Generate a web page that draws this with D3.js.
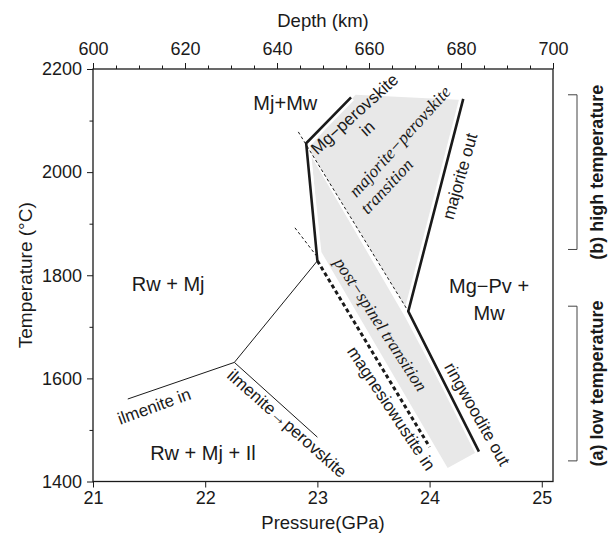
<!DOCTYPE html>
<html>
<head>
<meta charset="utf-8">
<script src="https://cdn.jsdelivr.net/npm/d3@7"></script>
<style>
  html, body { margin: 0; padding: 0; background: #fff; }
  svg { display: block; font-family: "Liberation Sans", Arial, Helvetica, sans-serif; }
</style>
</head>
<body>
<svg id="chart" width="608" height="540"></svg>
<script>
// ---- Axis ticks ----
const pressureTicks = [21, 22, 23, 24, 25];
const depthTicks = [600, 620, 640, 660, 680, 700];
const depthMinorTicks = [605, 610, 615, 625, 630, 635, 645, 650, 655, 665, 670, 675, 685, 690, 695];
const tempTicks = [1400, 1600, 1800, 2000, 2200];
const tempMinorTicks = [1500, 1700, 1900, 2100];

// ---- Phase boundaries, [pressure GPa, temperature °C] ----
const mgPerovskiteIn = [[23.3, 2145], [22.9, 2056], [23.0, 1828]];
const magnesiowustiteIn = [[23.0, 1828], [24.0, 1467]];
const tripleLink = [[23.0, 1828], [22.26, 1631]];
const ilmeniteIn = [[22.26, 1631], [21.31, 1560]];
const ilmeniteToPerovskite = [[22.26, 1631], [23.0, 1486]];
const majoriteRingwooditeOut = [[24.3, 2142], [23.81, 1730], [24.44, 1458]];
const majPvDashed = [[22.83, 2078], [23.81, 1730]];
const postSpinelDashed = [[22.8, 1892], [22.99, 1838]];

// ---- Transition fields ----
const majPvField = [[23.34, 2150], [24.295, 2140], [23.81, 1730], [22.93, 2043], [22.94, 2051]];
const postSpinelField = [[22.94, 2039], [23.036, 1845], [24.161, 1426], [24.42, 1457],
                         [23.777, 1721], [23.723, 1741], [22.946, 2031]];

// ---- Temperature ranges of the two experiment sets ----
const highTempRange = [1850, 2150];
const lowTempRange = [1440, 1740];

// ---- Chart geometry ----
const W = 608, H = 540;
const margin = { left: 93, right: 55, top: 69, bottom: 58.5 };
const svg = d3.select("#chart");

const x = d3.scaleLinear().domain([21, 25.1]).range([margin.left, W - margin.right]);
const xDepth = d3.scaleLinear().domain([600, 700]).range([margin.left, W - margin.right]);
const y = d3.scaleLinear().domain([1400, 2200]).range([H - margin.bottom, margin.top]);

const line = d3.line().x(d => x(d[0])).y(d => y(d[1]));
const ink = "#1a1a1a";

// grey fields
const fields = svg.append("g");
[majPvField, postSpinelField].forEach(f => {
  fields.append("path")
    .attr("d", line(f) + "Z")
    .attr("fill", "#e8e8e8")
    .attr("stroke", "none");
});

// white halos around the thick boundaries
[mgPerovskiteIn, majoriteRingwooditeOut].forEach(l => {
  svg.append("path").attr("d", line(l)).attr("fill", "none")
    .attr("stroke", "#fff").attr("stroke-width", 8).attr("stroke-linejoin", "round");
});

// thin dashed boundaries
[majPvDashed, postSpinelDashed].forEach(l => {
  svg.append("path").attr("d", line(l)).attr("fill", "none")
    .attr("stroke", ink).attr("stroke-width", 1).attr("stroke-dasharray", "3,2.5");
});

// thin solid boundaries
[tripleLink, ilmeniteIn, ilmeniteToPerovskite].forEach(l => {
  svg.append("path").attr("d", line(l)).attr("fill", "none")
    .attr("stroke", ink).attr("stroke-width", 1);
});

// magnesiowustite-in (thick dotted)
svg.append("path").attr("d", line(magnesiowustiteIn)).attr("fill", "none")
  .attr("stroke", ink).attr("stroke-width", 3).attr("stroke-dasharray", "4,3");

// thick solid boundaries
[mgPerovskiteIn, majoriteRingwooditeOut].forEach(l => {
  svg.append("path").attr("d", line(l)).attr("fill", "none")
    .attr("stroke", ink).attr("stroke-width", 2.6).attr("stroke-linejoin", "miter");
});

// ---- Axes ----
function styleAxis(g) {
  g.select(".domain").remove();
  g.selectAll(".tick line").attr("stroke", ink).attr("stroke-width", 1);
  g.selectAll(".tick text").attr("fill", ink).attr("font-size", 18)
    .attr("font-family", "Liberation Sans, Arial, sans-serif");
}

svg.append("g").attr("transform", `translate(0,${y(1400)})`)
  .call(d3.axisBottom(x).tickValues(pressureTicks).tickSize(6).tickPadding(4).tickFormat(d3.format("d")))
  .call(styleAxis);

svg.append("g").attr("transform", `translate(0,${y(2200)})`)
  .call(d3.axisTop(xDepth).tickValues(depthTicks).tickSize(6).tickPadding(8).tickFormat(d3.format("d")))
  .call(styleAxis);
svg.append("g").attr("transform", `translate(0,${y(2200)})`)
  .call(d3.axisTop(xDepth).tickValues(depthMinorTicks).tickSize(3.5).tickFormat(""))
  .call(styleAxis);

svg.append("g").attr("transform", `translate(${x(21)},0)`)
  .call(d3.axisLeft(y).tickValues(tempTicks).tickSize(6).tickPadding(5).tickFormat(d3.format("d")))
  .call(styleAxis);
svg.append("g").attr("transform", `translate(${x(21)},0)`)
  .call(d3.axisLeft(y).tickValues(tempMinorTicks).tickSize(3.5).tickFormat(""))
  .call(styleAxis);

// frame
svg.append("rect")
  .attr("x", x.range()[0]).attr("y", y.range()[1])
  .attr("width", x.range()[1] - x.range()[0])
  .attr("height", y.range()[0] - y.range()[1])
  .attr("fill", "none").attr("stroke", ink).attr("stroke-width", 1.3);

// axis titles
svg.append("text").attr("x", (x.range()[0] + x.range()[1]) / 2).attr("y", 27)
  .attr("text-anchor", "middle").attr("font-size", 18.5).attr("fill", ink).text("Depth (km)");
svg.append("text").attr("x", (x.range()[0] + x.range()[1]) / 2).attr("y", 529)
  .attr("text-anchor", "middle").attr("font-size", 18.5).attr("fill", ink).text("Pressure(GPa)");
svg.append("text")
  .attr("transform", `translate(25,${(y.range()[0] + y.range()[1]) / 2}) rotate(-90)`)
  .attr("dy", "0.35em").attr("text-anchor", "middle").attr("font-size", 19).attr("fill", ink)
  .text("Temperature (°C)");

// ---- Phase field names ----
const fieldNames = [
  { text: "Mj+Mw", p: 22.714, t: 2120 },
  { text: "Rw + Mj", p: 21.67, t: 1769 },
  { text: "Rw + Mj + Il", p: 21.98, t: 1442 },
  { text: "Mg\u2212Pv +", p: 24.53, t: 1766 },
  { text: "Mw", p: 24.53, t: 1713 }
];
svg.append("g").selectAll("text").data(fieldNames).join("text")
  .attr("x", d => x(d.p)).attr("y", d => y(d.t))
  .attr("text-anchor", "middle").attr("font-size", 20).attr("fill", ink)
  .text(d => d.text);

// ---- Boundary labels (centred, rotated along the boundaries) ----
const boundaryNames = [
  { text: "Mg\u2212perovskite", p: 23.33, t: 2113, angle: -42, serif: false },
  { text: "in", p: 23.443, t: 2085, angle: -42, serif: false },
  { text: "majorite\u2212perovskite", p: 23.732, t: 2060, angle: -48, serif: true },
  { text: "transition", p: 23.616, t: 1973, angle: -47, serif: true },
  { text: "post\u2212spinel transition", p: 23.567, t: 1705, angle: 57, serif: true },
  { text: "magnesiowustite in", p: 23.66, t: 1542, angle: 56.5, serif: false },
  { text: "ringwoodite out", p: 24.426, t: 1531, angle: 60.5, serif: false },
  { text: "majorite out", p: 24.268, t: 1992, angle: -74, serif: false },
  { text: "ilmenite in", p: 21.545, t: 1546, angle: -20, serif: false },
  { text: "ilmenite\u2192perovskite", p: 22.73, t: 1513, angle: 41.6, serif: false }
];
svg.append("g").selectAll("text").data(boundaryNames).join("text")
  .attr("transform", d => `translate(${x(d.p)},${y(d.t)}) rotate(${d.angle})`)
  .attr("dy", "0.35em").attr("text-anchor", "middle")
  .attr("font-size", d => d.serif ? 17.5 : 17)
  .attr("font-family", d => d.serif ? "Liberation Serif, Times New Roman, serif" : null)
  .attr("font-style", d => d.serif ? "italic" : null)
  .attr("fill", ink)
  .text(d => d.text);

// ---- Temperature-range brackets on the right ----
const brackets = [
  { range: highTempRange, text: "(b) high temperature" },
  { range: lowTempRange, text: "(a) low temperature" }
];
brackets.forEach(b => {
  const y0 = y(b.range[1]), y1 = y(b.range[0]);
  svg.append("path")
    .attr("d", `M568,${y0}H577V${y1}H568`)
    .attr("fill", "none").attr("stroke", "#444").attr("stroke-width", 1);
  svg.append("text")
    .attr("transform", `translate(597,${(y0 + y1) / 2}) rotate(-90)`)
    .attr("dy", "0.35em").attr("text-anchor", "middle")
    .attr("font-size", 18).attr("font-weight", "bold").attr("fill", ink)
    .text(b.text);
});
</script>
</body>
</html>
